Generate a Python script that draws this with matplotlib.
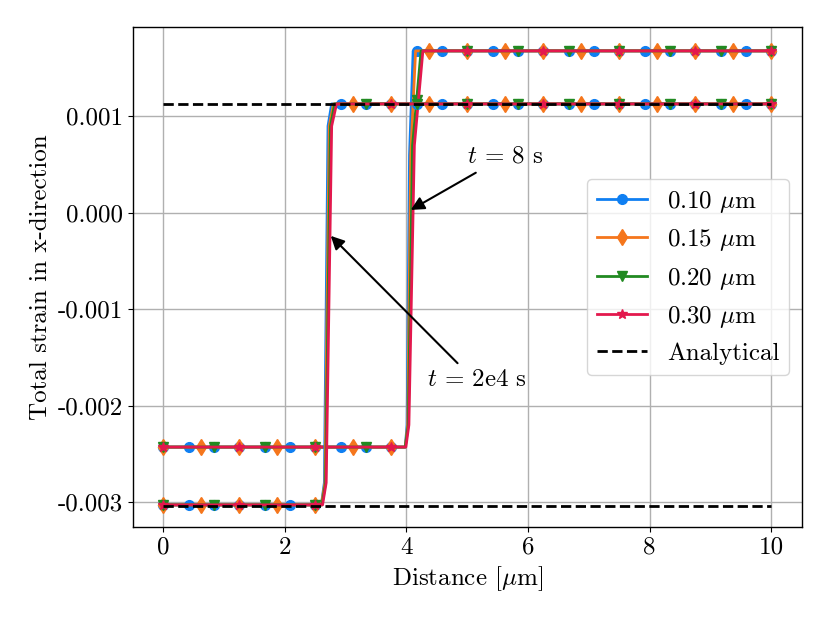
import numpy as np
import matplotlib
matplotlib.use('Agg')
import matplotlib.pyplot as plt

plt.rcParams['font.family'] = 'serif'
plt.rcParams['font.serif'] = ['cmr10']
plt.rcParams['mathtext.fontset'] = 'cm'
plt.rcParams['axes.formatter.use_mathtext'] = True
plt.rcParams['axes.unicode_minus'] = False

# element sizes and number of mesh nodes over 0..10 um
labels = [r'0.10 $\mu$m', r'0.15 $\mu$m', r'0.20 $\mu$m', r'0.30 $\mu$m']
n_nodes = [97, 65, 49, 33]
colors = ['#0f7ff2', '#f5761c', '#218a21', '#e3184d']
markers = ['o', 'd', 'v', '*']
msizes = [7, 8, 7, 7]

# profile at t = 8 s (knots of each curve, strain)
t8_x = [
    [0, 3.98, 4.01, 4.05, 4.11, 10],
    [0, 3.98, 4.02, 4.07, 4.15, 10],
    [0, 3.98, 4.03, 4.10, 4.24, 10],
    [0, 3.99, 4.04, 4.13, 4.27, 10],
]
t8_y = [
    [-0.00243, -0.00243, -0.0022, 0.0006, 0.00168, 0.00168],
    [-0.00243, -0.00243, -0.0022, 0.0006, 0.00168, 0.00168],
    [-0.00243, -0.00243, -0.0022, 0.0007, 0.00168, 0.00168],
    [-0.00243, -0.00243, -0.0022, 0.0007, 0.00168, 0.00168],
]

# profile at t = 2e4 s
t2e4_x = [
    [0, 2.60, 2.65, 2.71, 2.77, 10],
    [0, 2.60, 2.66, 2.73, 2.80, 10],
    [0, 2.61, 2.67, 2.75, 2.82, 10],
    [0, 2.62, 2.68, 2.77, 2.85, 10],
]
t2e4_y = [
    [-0.00303, -0.00303, -0.0028, 0.0009, 0.00113, 0.00113],
    [-0.00303, -0.00303, -0.0028, 0.0009, 0.00113, 0.00113],
    [-0.00303, -0.00303, -0.0028, 0.0009, 0.00113, 0.00113],
    [-0.00303, -0.00303, -0.0028, 0.0009, 0.00113, 0.00113],
]

analytical_x = [0, 10]
analytical_top = [0.00113, 0.00113]
analytical_bottom = [-0.00304, -0.00304]

xticks = [0, 2, 4, 6, 8, 10]
yticks = [-0.003, -0.002, -0.001, 0.000, 0.001]
ytick_labels = ['-0.003', '-0.002', '-0.001', '0.000', '0.001']

FS = 18

fig = plt.figure(figsize=(8.3, 6.23), dpi=100)
ax = fig.add_axes([0.160, 0.154, 0.806, 0.803])


def draw(kx, ky, n, c, m, ms, label=None):
    nodes = np.linspace(0, 10, n)
    xs = np.union1d(nodes, kx)
    ys = np.interp(xs, kx, ky)
    idx = [int(np.argmin(np.abs(xs - v))) for v in nodes[::4]]
    ax.plot(xs, ys, color=c, lw=2, marker=m, ms=ms, markevery=idx, label=label)


for i in range(4):
    draw(t8_x[i], t8_y[i], n_nodes[i], colors[i], markers[i], msizes[i], labels[i])
for i in range(4):
    draw(t2e4_x[i], t2e4_y[i], n_nodes[i], colors[i], markers[i], msizes[i])

ax.plot(analytical_x, analytical_top, 'k--', lw=2, label='Analytical')
ax.plot(analytical_x, analytical_bottom, 'k--', lw=2)

ax.annotate('', xy=(4.07, 0.00003), xytext=(5.14, 0.000416),
            arrowprops=dict(arrowstyle='-|>', color='k', lw=1.5, mutation_scale=20,
                            shrinkA=0, shrinkB=0))
ax.text(4.99, 0.00058, r'$t\,=\,8$ s', fontsize=FS, ha='left', va='center')
ax.annotate('', xy=(2.755, -0.000239), xytext=(4.84, -0.00156),
            arrowprops=dict(arrowstyle='-|>', color='k', lw=1.5, mutation_scale=20,
                            shrinkA=0, shrinkB=0))
ax.text(4.33, -0.001735, r'$t\,=\,2$e4 s', fontsize=FS, ha='left', va='center')

ax.set_xlim(-0.5, 10.5)
ax.set_ylim(-0.00326, 0.00193)
ax.set_xticks(xticks)
ax.set_xticklabels([str(v) for v in xticks])
ax.set_yticks(yticks)
ax.set_yticklabels(ytick_labels)
ax.tick_params(labelsize=FS)
ax.grid(True, color='#b0b0b0', lw=1)
for s in ax.spines.values():
    s.set_linewidth(1.0)

ax.set_xlabel(r'Distance [$\mu$m]', fontsize=FS)
ax.set_ylabel('Total strain in x-direction', fontsize=FS)
ax.legend(loc='center right', fontsize=FS)

fig.savefig('out.png', dpi=100)
